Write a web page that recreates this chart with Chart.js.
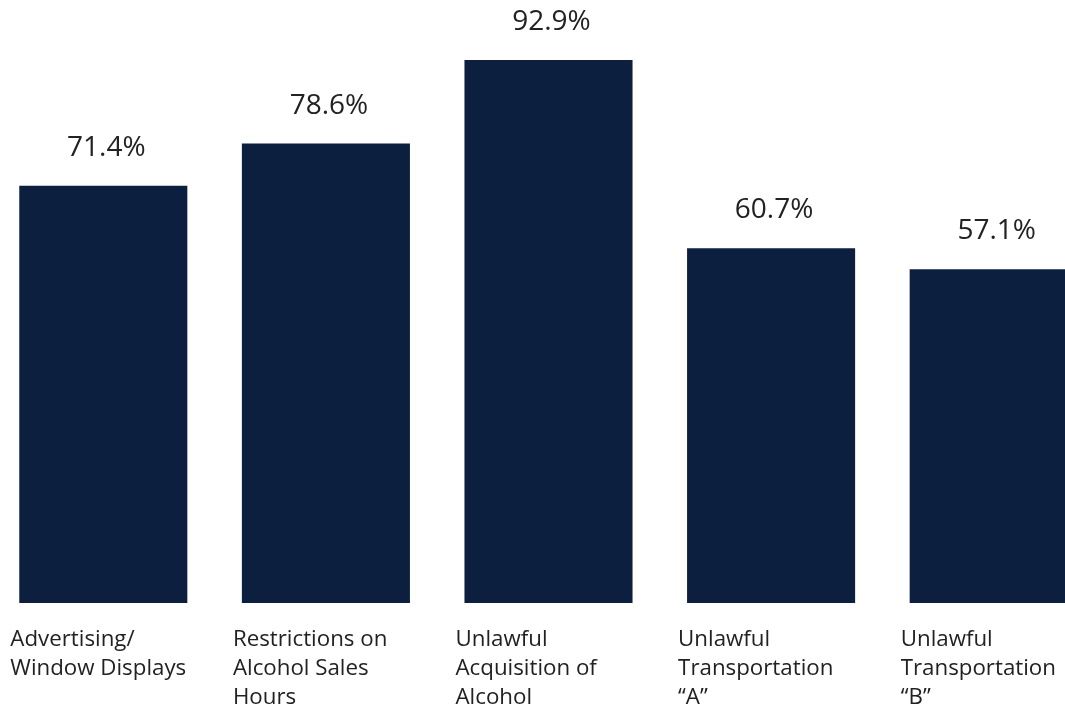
<!DOCTYPE html>
<html>
<head>
<meta charset="utf-8">
<script src="https://cdn.jsdelivr.net/npm/chart.js@4/dist/chart.umd.min.js"></script>
<style>
  html, body { margin: 0; padding: 0; background: #fff; overflow: hidden; }
  #wrap { position: absolute; left: -8px; top: 0; width: 1113px; height: 708px; }
</style>
</head>
<body>
<div id="wrap"><canvas id="chart"></canvas></div>
<script>
  // categories (one entry per line of the axis label) and their shares
  const categories = [
    ["Advertising/", "Window Displays"],
    ["Restrictions on", "Alcohol Sales", "Hours"],
    ["Unlawful", "Acquisition of", "Alcohol"],
    ["Unlawful", "Transportation", "\u201cA\u201d"],
    ["Unlawful", "Transportation", "\u201cB\u201d"]
  ];
  const shares = [71.4, 78.6, 92.9, 60.7, 57.1];

  const NAVY = "#0c1f3f";
  const TEXT = "#222222";
  const FONT = "'Open Sans', 'Noto Sans', sans-serif";

  // value above each bar, category text below, both placed from the scales
  const labelPlugin = {
    id: "labels",
    afterDatasetsDraw(chart) {
      const ctx = chart.ctx;
      const x = chart.scales.x;
      const y = chart.scales.y;
      const base = y.getPixelForValue(0);
      ctx.save();
      ctx.fillStyle = TEXT;
      ctx.textBaseline = "alphabetic";

      ctx.font = "28px " + FONT;
      ctx.textAlign = "center";
      shares.forEach(function (v, i) {
        ctx.fillText(v.toFixed(1) + "%", x.getPixelForValue(i) + 3, y.getPixelForValue(v) - 30);
      });

      ctx.font = "22.3px " + FONT;
      ctx.textAlign = "left";
      categories.forEach(function (lines, i) {
        const left = x.getPixelForValue(i) - 93;
        lines.forEach(function (line, k) {
          ctx.fillText(line, left, base + 43 + k * 29);
        });
      });
      ctx.restore();
    }
  };

  new Chart(document.getElementById("chart").getContext("2d"), {
    type: "bar",
    data: {
      labels: categories.map(function (c) { return c.join(" "); }),
      datasets: [{
        data: shares,
        backgroundColor: NAVY,
        borderWidth: 0,
        categoryPercentage: 1,
        barPercentage: 0.755
      }]
    },
    options: {
      responsive: true,
      maintainAspectRatio: false,
      animation: false,
      layout: { padding: { top: 18.5, bottom: 105, left: 0, right: 0 } },
      plugins: {
        legend: { display: false },
        tooltip: { enabled: false }
      },
      scales: {
        x: { display: false, offset: true },
        y: { display: false, min: 0, max: 100 }
      }
    },
    plugins: [labelPlugin]
  });
</script>
</body>
</html>
